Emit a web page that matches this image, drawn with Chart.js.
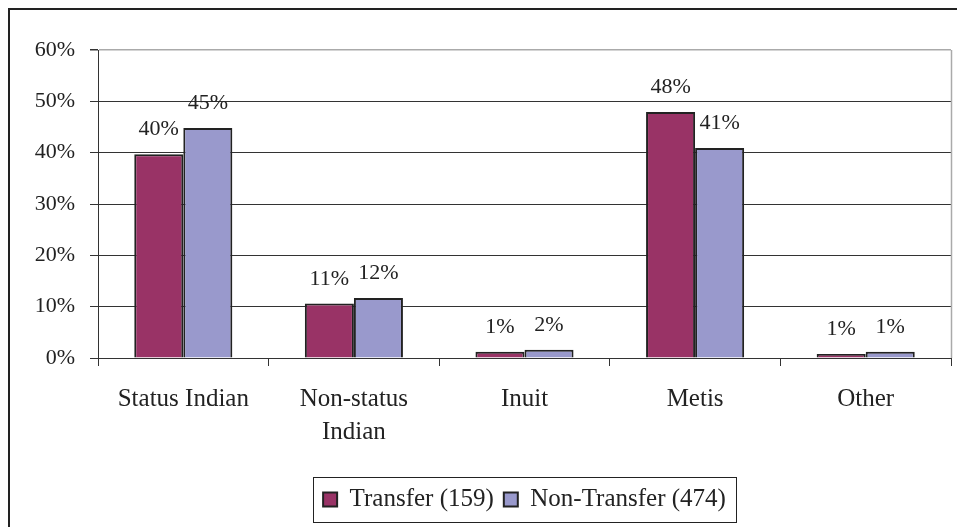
<!DOCTYPE html>
<html>
<head>
<meta charset="utf-8">
<script src="https://cdn.jsdelivr.net/npm/chart.js@4"></script>
<style>
  html, body { margin: 0; padding: 0; background: #fff; }
  #wrap { width: 957px; height: 527px; }
</style>
</head>
<body>
<div id="wrap"><canvas id="myChart" width="957" height="527"></canvas></div>
<script>
// Chart data
var categories = ['Status Indian', ['Non-status', 'Indian'], 'Inuit', 'Metis', 'Other'];
var transfer = [39.7, 10.6, 1.2, 47.9, 0.8];
var nonTransfer = [44.8, 11.7, 1.6, 40.9, 1.2];
var transferLabels = ['40%', '11%', '1%', '48%', '1%'];
var nonTransferLabels = ['45%', '12%', '2%', '41%', '1%'];
var yTicks = [0, 10, 20, 30, 40, 50, 60];

var serif = '"Liberation Serif", "Times New Roman", serif';
var ink = '#222';

/* Value labels above each bar */
const barLabels = {
    id: 'barLabels',
    afterDatasetsDraw(chart) {
        const ctx = chart.ctx;
        const texts = [transferLabels, nonTransferLabels];
        ctx.save();
        ctx.font = '22px ' + serif;
        ctx.fillStyle = ink;
        ctx.textAlign = 'center';
        ctx.textBaseline = 'alphabetic';
        chart.data.datasets.forEach(function (ds, i) {
            chart.getDatasetMeta(i).data.forEach(function (bar, j) {
                ctx.fillText(texts[i][j], bar.x, bar.y - 19);
            });
        });
        ctx.restore();
    }
};

/* Outer frame, plot area right edge and box round the legend */
const frames = {
    id: 'frames',
    afterDraw(chart) {
        const ctx = chart.ctx;
        const area = chart.chartArea;
        ctx.save();
        // outer frame (left and top visible)
        ctx.strokeStyle = ink;
        ctx.lineWidth = 2;
        ctx.beginPath();
        ctx.moveTo(9, chart.height);
        ctx.lineTo(9, 9);
        ctx.lineTo(chart.width, 9);
        ctx.stroke();
        // plot area right border
        ctx.strokeStyle = '#aaa';
        ctx.lineWidth = 1.5;
        ctx.beginPath();
        ctx.moveTo(area.right + 0.5, area.top);
        ctx.lineTo(area.right + 0.5, area.bottom);
        ctx.stroke();
        // legend box
        const lg = chart.legend;
        const boxes = lg.legendHitBoxes;
        if (boxes && boxes.length) {
            const first = boxes[0], last = boxes[boxes.length - 1];
            const x0 = first.left - 10, x1 = last.left + last.width + 10;
            ctx.strokeStyle = ink;
            ctx.lineWidth = 1;
            ctx.strokeRect(Math.round(x0) + 0.5, Math.round(lg.top) + 0.5,
                Math.round(x1 - x0), Math.round(lg.bottom - lg.top));
        }
        ctx.restore();
    }
};

const data = {
    labels: categories,
    datasets: [{
        label: 'Transfer (159)',
        data: transfer,
        backgroundColor: '#993366',
        borderColor: ink,
        borderWidth: 2
    }, {
        label: 'Non-Transfer (474)',
        data: nonTransfer,
        backgroundColor: '#9999cc',
        borderColor: ink,
        borderWidth: 2
    }]
};

const config = {
    type: 'bar',
    data: data,
    options: {
        responsive: false,
        animation: false,
        categoryPercentage: 0.575,
        barPercentage: 1,
        layout: {
            padding: { top: 50, right: 6, left: 0, bottom: 5 }
        },
        plugins: {
            tooltip: { enabled: false },
            legend: {
                position: 'bottom',
                fullSize: false,
                labels: {
                    font: { family: serif, size: 25 },
                    color: ink,
                    boxWidth: 14,
                    boxHeight: 14,
                    padding: 10
                }
            }
        },
        scales: {
            x: {
                afterFit: function (scale) { scale.height = 119; },
                grid: {
                    offset: true,
                    drawOnChartArea: false,
                    tickLength: 8,
                    color: '#333'
                },
                border: { color: '#333', width: 1 },
                ticks: {
                    font: { family: serif, size: 25, lineHeight: 1.32 },
                    color: ink,
                    padding: 17,
                    maxRotation: 0
                }
            },
            y: {
                min: 0,
                max: 60,
                afterFit: function (scale) { scale.width = 98; },
                afterBuildTicks: function (scale) {
                    scale.ticks = yTicks.map(function (v) { return { value: v }; });
                },
                grid: {
                    color: function (c) { return c.tick && c.tick.value === 60 ? '#aaa' : '#333'; },
                    lineWidth: function (c) { return c.tick && c.tick.value === 60 ? 1.5 : 1; },
                    tickColor: '#333',
                    tickLength: 8
                },
                border: { color: '#333', width: 1 },
                ticks: {
                    font: { family: serif, size: 22 },
                    color: ink,
                    padding: 15,
                    callback: function (v) { return v + '%'; }
                }
            }
        }
    },
    plugins: [barLabels, frames]
};

const myChart = new Chart(document.getElementById('myChart'), config);
</script>
</body>
</html>
